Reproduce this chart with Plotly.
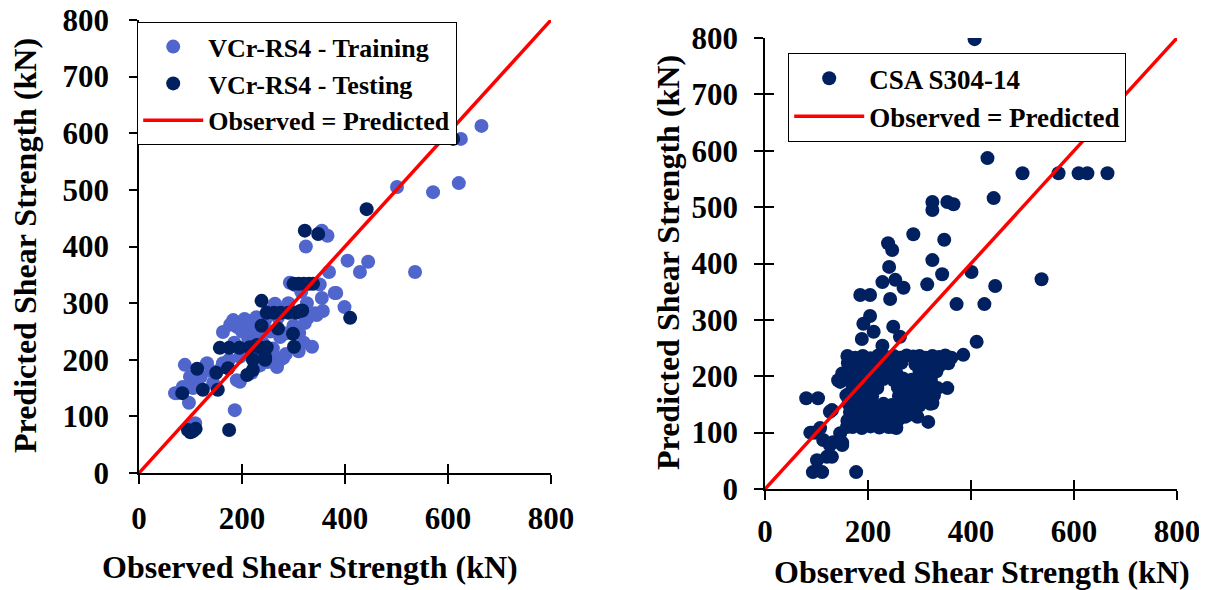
import plotly.graph_objects as go

# ---------------- data ----------------
train_obs = [665, 625, 621, 571, 501, 536, 405, 445, 429, 369, 383, 399, 355, 366, 324,
             351, 355, 342, 326, 311, 303, 293, 328, 264, 274, 183, 195, 205, 215, 225,
             190, 177, 163, 212, 274, 287, 336, 196, 210, 230, 250, 265, 274, 280, 268,
             196, 219, 190, 89, 132, 163, 161, 99, 144, 74, 70, 97, 186, 109, 100,
             357, 322, 380, 345, 240, 255, 230, 245, 300, 310, 320, 285, 260, 200, 220,
             185, 110, 120, 85, 105, 140, 175, 235, 258, 290, 315, 270, 250, 228, 208]
train_pred = [613, 590, 512, 496, 505, 355, 375, 373, 355, 355, 318, 293, 428, 419, 400,
              333, 309, 282, 300, 247, 332, 336, 274, 299, 288, 270, 265, 272, 268, 262,
              258, 262, 249, 238, 240, 247, 223, 205, 212, 208, 196, 205, 200, 203, 187,
              161, 177, 164, 191, 194, 194, 187, 170, 159, 141, 141, 124, 111, 88, 80,
              286, 265, 318, 279, 230, 250, 245, 270, 260, 215, 230, 210, 220, 250, 255,
              230, 160, 170, 152, 150, 180, 200, 190, 215, 300, 320, 275, 285, 275, 265]

test_obs = [610, 442, 322, 348, 410, 300, 310, 320, 330, 338, 238, 317, 248, 262, 275,
            290, 305, 238, 299, 301, 157, 175, 195, 215, 235, 248, 229, 221, 245, 210,
            113, 150, 173, 124, 153, 84, 95, 100, 105, 110, 175, 313, 245, 221, 270]
test_pred = [590, 466, 428, 422, 274, 334, 334, 334, 334, 334, 304, 287, 283, 283, 283,
             283, 283, 260, 246, 223, 221, 221, 221, 222, 221, 222, 226, 200, 200, 173,
             184, 177, 185, 147, 147, 141, 76, 72, 74, 78, 76, 286, 205, 182, 255]

csa_obs = [407, 432, 500, 570, 609, 626, 665, 444, 325, 325, 354, 366, 288, 348, 239,
           247, 325, 344, 401, 241, 537, 447, 315, 269, 228, 253, 372, 426, 185, 204,
           243, 204, 191, 211, 249, 262, 188, 228, 411, 385, 356, 146, 160, 354, 335,
           80, 103, 130, 325, 317, 296, 272, 91, 107, 150, 126, 130, 101, 93, 111,
           177, 262, 142, 161, 181, 150, 113, 146, 120, 88, 97, 132, 150, 126, 321,
           278, 249, 159,
           160, 175, 190, 205, 220, 235, 250, 262, 275, 288, 300, 312, 325, 338, 350, 362,
           168, 185, 200, 215, 232, 248, 265, 292, 308, 322, 340,
           172, 188, 205, 222, 240, 255, 300, 318, 333,
           165, 180, 198, 214, 230, 250, 268, 285, 305, 322,
           170, 186, 202, 218, 258, 275, 292, 310,
           158, 175, 192, 208, 260, 278, 295, 312, 328,
           162, 180, 196, 213, 230, 246, 264, 282, 300,
           165, 182, 198, 215, 232, 250, 268, 285,
           160, 176, 192, 208, 225, 242, 258,
           170, 188, 205, 222, 240, 255]
csa_pred = [798, 587, 560, 560, 560, 560, 560, 516, 509, 495, 509, 505, 452, 442, 436,
            424, 406, 381, 385, 394, 372, 360, 363, 357, 367, 371, 328, 328, 344, 344,
            337, 307, 293, 279, 288, 270, 266, 254, 261, 238, 223, 190, 167, 179, 179,
            161, 161, 140, 152, 119, 128, 128, 100, 108, 78, 78, 57, 51, 30, 30,
            30, 158, 193, 223, 211, 205, 87, 99, 57, 100, 100, 83, 82, 137, 151,
            131, 110, 110,
            236, 233, 236, 232, 237, 234, 236, 233, 237, 235, 236, 233, 236, 234, 237, 233,
            222, 220, 224, 219, 223, 221, 224, 221, 219, 223, 220,
            208, 206, 210, 207, 209, 206, 208, 205, 209,
            195, 193, 196, 192, 195, 193, 196, 194, 197, 193,
            181, 178, 182, 179, 180, 178, 182, 179,
            166, 163, 167, 164, 165, 162, 166, 163, 166,
            151, 149, 152, 148, 151, 149, 152, 150, 148,
            136, 133, 137, 134, 136, 133, 137, 135,
            121, 118, 122, 119, 121, 118, 122,
            110, 108, 111, 109, 110, 108]

line_vals = [0, 800]
tick_vals = [0, 100, 200, 300, 400, 500, 600, 700, 800]
x_tick_vals = [0, 200, 400, 600, 800]

# ---------------- styling ----------------
FONT = "Liberation Serif"
LIGHT = "#5166CC"
DARK = "#002060"
RED = "#FF0000"
TICKF = dict(family=FONT, size=31, color="black", weight="bold")
LEGF = dict(family=FONT, size=26, color="black", weight="bold")
LEGF2 = dict(family=FONT, size=27, color="black", weight="bold")

fig = go.Figure()

fig.add_trace(go.Scatter(x=train_obs, y=train_pred, mode="markers", name="VCr-RS4 - Training",
                         marker=dict(color=LIGHT, size=14, line=dict(width=0)),
                         xaxis="x", yaxis="y", legend="legend"))
fig.add_trace(go.Scatter(x=test_obs, y=test_pred, mode="markers", name="VCr-RS4 - Testing",
                         marker=dict(color=DARK, size=14, line=dict(width=0)),
                         xaxis="x", yaxis="y", legend="legend"))
fig.add_trace(go.Scatter(x=line_vals, y=line_vals, mode="lines", name="Observed = Predicted",
                         line=dict(color=RED, width=3.5), xaxis="x", yaxis="y", legend="legend"))

fig.add_trace(go.Scatter(x=csa_obs, y=csa_pred, mode="markers", name="CSA S304-14",
                         marker=dict(color=DARK, size=14, line=dict(width=0)),
                         xaxis="x2", yaxis="y2", legend="legend2"))
fig.add_trace(go.Scatter(x=line_vals, y=line_vals, mode="lines", name="Observed = Predicted",
                         line=dict(color=RED, width=3.5), xaxis="x2", yaxis="y2", legend="legend2"))

# invisible traces so the overlay (inside-tick) axes get drawn
for xa, ya in [("x3", "y"), ("x4", "y2"), ("x2", "y4")]:
    fig.add_trace(go.Scatter(x=[None], y=[None], mode="markers", showlegend=False,
                             hoverinfo="skip", xaxis=xa, yaxis=ya))

# the page body has an 8px margin: the figure starts at (8, 8) in the window
OFF = 8
W, H = 1207 - OFF, 590 - OFF


def px(v):
    return (v - OFF) / W


def py(v):
    return (H - (v - OFF)) / H


L_dom_x = [px(139), px(551)]
L_dom_y = [py(473), py(20)]
R_dom_x = [px(765), px(1177)]
R_dom_y = [py(489), py(38)]

base = dict(range=[0, 800], showgrid=False, zeroline=False, showline=True, automargin=False,
            linecolor="black", linewidth=1.5, tickcolor="black", tickwidth=1.5,
            tickfont=TICKF, fixedrange=True, ticklabeloverflow="allow")
over = dict(range=[0, 800], showline=False, showgrid=False, zeroline=False, automargin=False,
            showticklabels=False, tickmode="array", ticks="inside", ticklen=9,
            tickwidth=1.5, tickcolor="black", fixedrange=True)

fig.update_layout(
    template="none",
    width=W, height=H,
    margin=dict(l=0, r=0, t=0, b=0, pad=0),
    paper_bgcolor="white", plot_bgcolor="white",
    showlegend=True,
    xaxis=dict(base, domain=L_dom_x, anchor="y", tickmode="array", tickvals=x_tick_vals,
               ticks="outside", ticklen=9, ticklabelstandoff=8),
    yaxis=dict(base, domain=L_dom_y, anchor="x", tickmode="array", tickvals=tick_vals,
               ticks="outside", ticklen=8, ticklabelstandoff=14),
    xaxis2=dict(base, domain=R_dom_x, anchor="y2", tickmode="array", tickvals=x_tick_vals,
                ticks="outside", ticklen=9, ticklabelstandoff=5),
    yaxis2=dict(base, domain=R_dom_y, anchor="x2", tickmode="array", tickvals=tick_vals,
                ticks="outside", ticklen=9, ticklabelstandoff=10),
    xaxis3=dict(over, overlaying="x", anchor="y", domain=L_dom_x, tickvals=x_tick_vals),
    xaxis4=dict(over, overlaying="x2", anchor="y2", domain=R_dom_x, tickvals=x_tick_vals),
    yaxis4=dict(over, overlaying="y2", anchor="x2", domain=R_dom_y, tickvals=tick_vals),
    legend=dict(x=px(137), y=py(22), xanchor="left", yanchor="top",
                bgcolor="white", bordercolor="black", borderwidth=1.2,
                font=LEGF, itemwidth=60, tracegroupgap=0),
    legend2=dict(x=px(788), y=py(53), xanchor="left", yanchor="top",
                 bgcolor="white", bordercolor="black", borderwidth=1.2,
                 font=LEGF2, itemwidth=70, tracegroupgap=0),
)

TITLEF = dict(family=FONT, size=32, color="black", weight="bold")
fig.add_annotation(text="Observed Shear Strength (kN)", x=px(310), y=py(567),
                   xref="paper", yref="paper", showarrow=False, font=TITLEF,
                   xanchor="center", yanchor="middle")
fig.add_annotation(text="Observed Shear Strength (kN)", x=px(982), y=py(572),
                   xref="paper", yref="paper", showarrow=False, font=TITLEF,
                   xanchor="center", yanchor="middle")
fig.add_annotation(text="Predicted Shear Strength (kN)", x=px(25), y=py(246),
                   xref="paper", yref="paper", showarrow=False, font=TITLEF, textangle=-90,
                   xanchor="center", yanchor="middle")
fig.add_annotation(text="Predicted Shear Strength (kN)", x=px(668), y=py(263),
                   xref="paper", yref="paper", showarrow=False, font=TITLEF, textangle=-90,
                   xanchor="center", yanchor="middle")

fig.write_html("out.html")
